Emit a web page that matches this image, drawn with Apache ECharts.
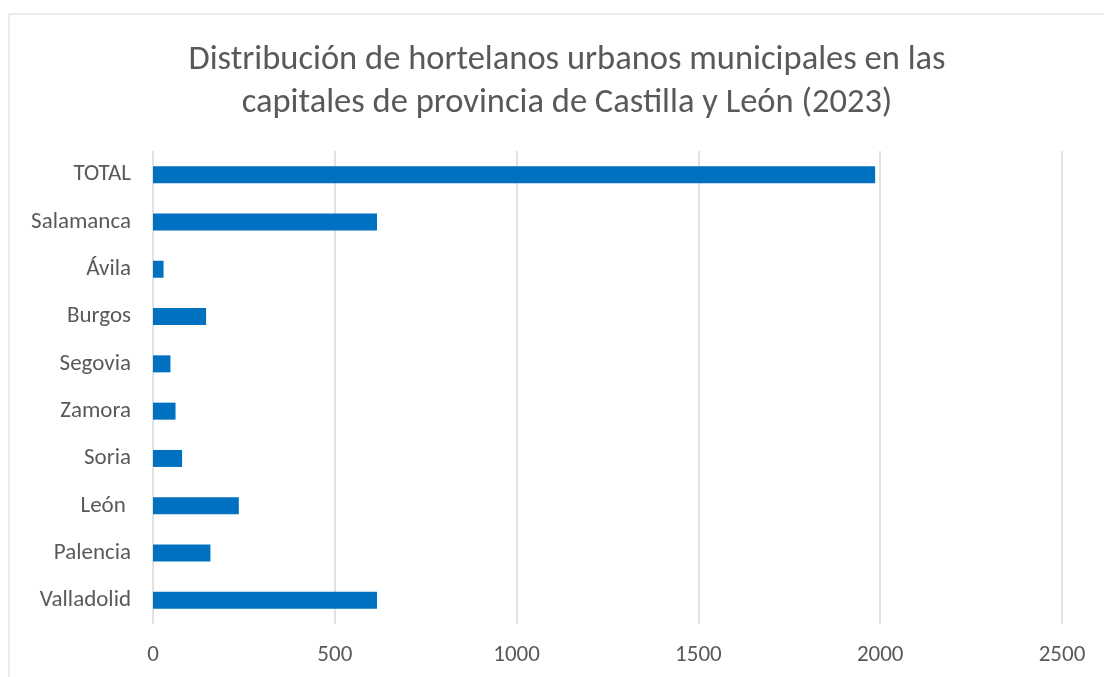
<!DOCTYPE html>
<html>
<head>
<meta charset="utf-8">
<script src="https://cdn.jsdelivr.net/npm/echarts@6.0.0/dist/echarts.min.js"></script>
<style>
  html, body { margin: 0; padding: 0; background: #fff; }
  #chart { width: 1104px; height: 677px; }
</style>
</head>
<body>
<div id="chart"></div>
<script>
  // categories listed bottom -> top (category axis on y starts at the bottom)
  const cities = ['Valladolid', 'Palencia', 'León ', 'Soria', 'Zamora', 'Segovia', 'Burgos', 'Ávila', 'Salamanca', 'TOTAL'];
  const gardeners = [616, 158, 236, 80, 62, 48, 146, 29, 616, 1986];
  const xTicks = [0, 500, 1000, 1500, 2000, 2500];

  const FONT = 'Carlito, "Open Sans", "Noto Sans", sans-serif';
  const TEXT = '#595959';
  const GRID = '#d9d9d9';

  const chart = echarts.init(document.getElementById('chart'));
  chart.setOption({
    backgroundColor: '#fff',
    animation: false,
    textStyle: { fontFamily: FONT },
    graphic: [{
      type: 'rect',
      shape: { x: 9, y: 14, width: 1200, height: 700 },
      style: { fill: 'none', stroke: GRID, lineWidth: 1 },
      silent: true
    }],
    title: {
      text: 'Distribución de hortelanos urbanos municipales en las\ncapitales de provincia de Castilla y León (2023)',
      left: 562,
      textAlign: 'center',
      top: 34,
      textStyle: {
        fontFamily: FONT,
        fontWeight: 'normal',
        fontSize: 34.5,
        lineHeight: 43,
        color: TEXT
      }
    },
    grid: { left: 153, right: 42, top: 151, bottom: 53 },
    xAxis: {
      type: 'value',
      min: xTicks[0],
      max: xTicks[xTicks.length - 1],
      interval: 500,
      axisLine: { show: false },
      axisTick: { show: false },
      splitLine: { show: true, lineStyle: { color: GRID, width: 1.5 } },
      axisLabel: { color: TEXT, fontSize: 23, fontFamily: FONT, margin: 20, formatter: v => String(v) }
    },
    yAxis: {
      type: 'category',
      data: cities,
      axisLine: { show: false },
      axisTick: { show: false },
      axisLabel: { color: TEXT, fontSize: 23, fontFamily: FONT, margin: 22 }
    },
    series: [{
      type: 'bar',
      data: gardeners,
      barWidth: 17,
      itemStyle: { color: '#0070C0' }
    }]
  });
</script>
</body>
</html>
